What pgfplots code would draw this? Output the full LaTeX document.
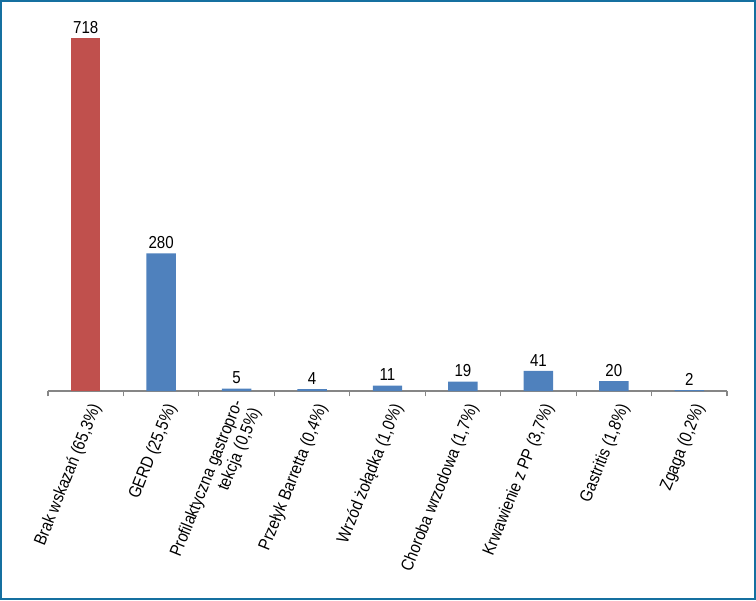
\documentclass[border=0pt]{standalone}
\usepackage{fontspec}
\setmainfont{Liberation Sans}[FakeStretch=0.87]
\usepackage{pgfplots}
\pgfplotsset{compat=1.18}
\definecolor{barred}{HTML}{C0504D}
\definecolor{barblue}{HTML}{4F81BD}
\definecolor{framecol}{HTML}{1570A0}
\definecolor{axisgray}{HTML}{868686}
\begin{document}
\begin{tikzpicture}
\begin{axis}[
    scale only axis,
    width=509.25pt,
    height=269.25pt,
    xmin=0.5, xmax=9.5,
    ymin=0, ymax=730,
    hide y axis,
    axis x line*=bottom,
    x axis line style={axisgray, line width=0.8pt},
    xtick={1,...,9},
    major tick length=0pt,
    minor xtick={0.5,1.5,...,9.5},
    minor tick length=4pt,
    tick align=outside,
    minor tick style={axisgray, line width=0.8pt},
    xticklabels={
        Brak wskazań (65{,}3\%),
        GERD (25{,}5\%),
        {Profilaktyczna gastropro-\\tekcja (0{,}5\%)},
        Przełyk Barretta (0{,}4\%),
        Wrzód żołądka (1{,}0\%),
        Choroba wrzodowa (1{,}7\%),
        Krwawienie z PP (3{,}7\%),
        Gastritis (1{,}8\%),
        Zgaga (0{,}2\%)
    },
    xticklabel style={xshift=9pt, yshift=-8.5pt, rotate=68, anchor=east,
        align=right, font=\fontsize{13pt}{14.5pt}\selectfont, inner sep=2pt},
    ybar,
    bar width=22.1pt,
    bar shift=0pt,
    nodes near coords,
    nodes near coords style={font=\fontsize{13pt}{14pt}\selectfont, black},
    /pgf/number format/assume math mode=true,
    clip=false,
]
\addplot[fill=barred, draw=none] coordinates {(1,718)};
\addplot[fill=barblue, draw=none] coordinates {
    (2,280) (3,5) (4,4) (5,11) (6,19) (7,41) (8,20) (9,2)
};
\end{axis}
\draw[framecol, line width=1.5pt] (-35.25pt,-156pt) rectangle (530.25pt,292.5pt);
\end{tikzpicture}
\end{document}
